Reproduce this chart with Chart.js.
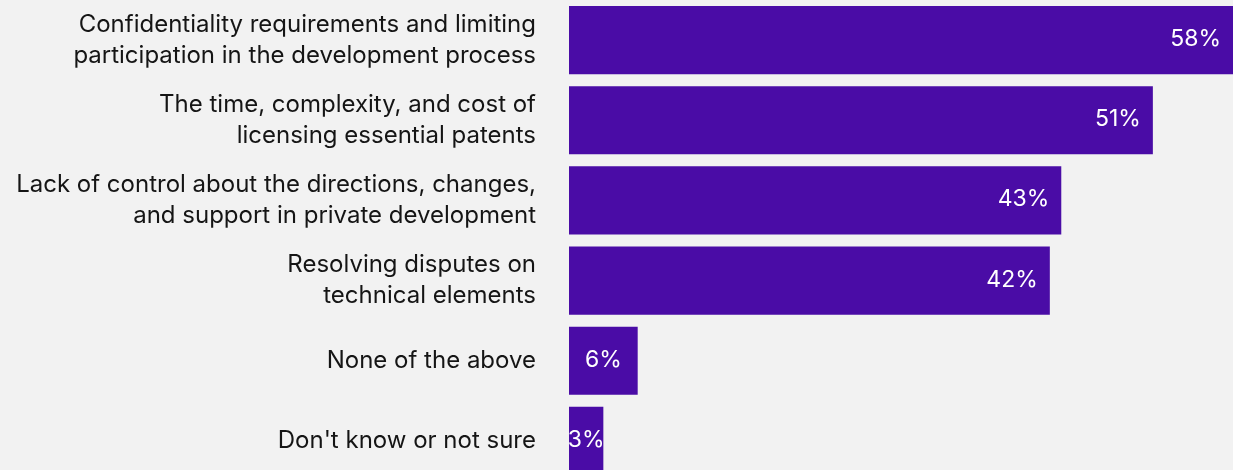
<!DOCTYPE html>
<html>

<head>
    <meta charset="utf-8">
    <title>Development concerns</title>
    <script src="https://cdn.jsdelivr.net/npm/chart.js@4.4.1/dist/chart.umd.min.js"></script>
    <style>
        html, body { margin: 0; padding: 0; background: #f2f2f2; overflow: hidden; }
        canvas { display: block; }
    </style>
</head>

<body>
    <canvas id="barChart" width="1233" height="481"></canvas>
</body>

<script>
    var categories = [
        ['Confidentiality requirements and limiting', 'participation in the development process'],
        ['The time, complexity, and cost of', 'licensing essential patents'],
        ['Lack of control about the directions, changes,', 'and support in private development'],
        ['Resolving disputes on', 'technical elements'],
        'None of the above',
        "Don't know or not sure"
    ];
    var shares = [58, 51, 43, 42, 6, 3];
    var shareLabels = ['58%', '51%', '43%', '42%', '6%', '3%'];

    // writes the percentage inside each bar, near its end
    var barValues = {
        id: 'barValues',
        afterDatasetsDraw(chart) {
            var ctx = chart.ctx;
            var meta = chart.getDatasetMeta(0);
            ctx.save();
            ctx.font = '23px Inter';
            ctx.fillStyle = '#ffffff';
            ctx.textBaseline = 'middle';
            meta.data.forEach(function (bar, i) {
                var text = shareLabels[i];
                var w = ctx.measureText(text).width;
                var len = bar.x - bar.base;
                if (len < w + 40) {
                    // short bars: keep the text centred on the bar
                    ctx.textAlign = 'center';
                    ctx.fillText(text, bar.base + len / 2, bar.y - 1);
                } else {
                    ctx.textAlign = 'right';
                    ctx.fillText(text, Math.min(bar.x - 12, chart.width - 2), bar.y - 1);
                }
            });
            ctx.restore();
        }
    };

    var ctx = document.getElementById('barChart').getContext('2d');
    var bar_chart = new Chart(ctx, {
        type: 'bar',
        plugins: [barValues],
        data: {
            labels: categories,
            datasets: [{
                data: shares,
                backgroundColor: '#4a0ca6',
                borderWidth: 0,
                barPercentage: 0.85,
                categoryPercentage: 1
            }]
        },
        options: {
            indexAxis: 'y',
            responsive: false,
            animation: false,
            layout: { padding: 0 },
            plugins: {
                legend: { display: false },
                tooltip: { enabled: false }
            },
            scales: {
                x: {
                    display: false,
                    min: 0,
                    max: 58
                },
                y: {
                    afterFit: function (scale) {
                        scale.width = 569;
                        scale.paddingTop = 0;
                        scale.paddingBottom = 0;
                    },
                    grid: { display: false, drawTicks: false },
                    border: { display: false },
                    ticks: {
                        color: '#151515',
                        padding: 33,
                        font: { family: 'Inter', size: 24, lineHeight: 1.3 }
                    }
                }
            }
        }
    });
</script>

</html>
